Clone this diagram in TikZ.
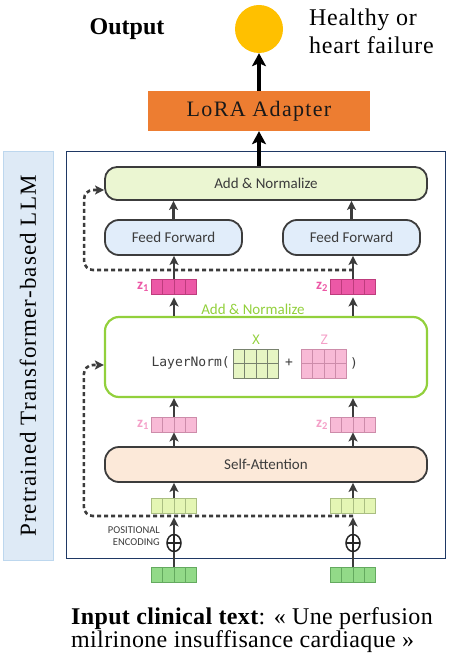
\documentclass[tikz,border=0pt]{standalone}
\usepackage{fontspec}
\setmainfont{Liberation Serif}
\newfontfamily\uisans{Carlito}
\newfontfamily\uimono{DejaVu Sans Mono}
\usepackage{xcolor}
\usepackage{tikz}
\usetikzlibrary{calc,shapes.geometric,arrows.meta}
\definecolor{loraOrange}{RGB}{237,125,49}
\definecolor{outYellow}{RGB}{255,192,0}
\definecolor{llmBlue}{RGB}{222,234,246}
\definecolor{llmEdge}{RGB}{189,215,238}
\definecolor{frameNavy}{RGB}{31,56,100}
\definecolor{boxGray}{RGB}{60,60,60}
\definecolor{addGreen}{RGB}{235,246,210}
\definecolor{ffBlue}{RGB}{225,237,250}
\definecolor{saPeach}{RGB}{252,233,217}
\definecolor{normLime}{RGB}{146,208,60}
\definecolor{zMag}{RGB}{236,88,166}
\definecolor{zMagEdge}{RGB}{190,60,125}
\definecolor{zPink}{RGB}{248,186,214}
\definecolor{zPinkEdge}{RGB}{205,140,170}
\definecolor{zPinkText}{RGB}{244,160,200}
\definecolor{embLime}{RGB}{228,246,180}
\definecolor{embEdge}{RGB}{170,190,130}
\definecolor{tokGreen}{RGB}{146,218,136}
\definecolor{tokEdge}{RGB}{100,170,95}
\definecolor{xLime}{RGB}{230,245,195}
\definecolor{xEdge}{RGB}{120,130,110}

\begin{document}
\begin{tikzpicture}[x=1pt,y=-1pt,>={Stealth[length=9pt,width=9pt,inset=2pt]},
  block/.style={draw=boxGray,line width=1.8pt,rounded corners=12pt,inner sep=0pt,
    font=\uisans\fontsize{15}{18}\selectfont,text=boxGray},
  cells/.style 2 args={path picture={
    \foreach \k in {1,2,3}
      \draw[#1,line width=.8pt] ($(path picture bounding box.south west)!\k/4!(path picture bounding box.south east)$)
        -- ($(path picture bounding box.north west)!\k/4!(path picture bounding box.north east)$);
    \ifnum#2>1 \draw[#1,line width=.8pt] (path picture bounding box.west) -- (path picture bounding box.east);\fi}},
  vec/.style 2 args={draw=#2,fill=#1,line width=.8pt,minimum width=45pt,minimum height=15pt,inner sep=0pt,cells={#2}{1}},
  mat/.style 2 args={draw=#2,fill=#1,line width=.8pt,minimum width=45pt,minimum height=29pt,inner sep=0pt,cells={#2}{2}},
  zlab/.style={anchor=east,inner sep=2pt,font=\uisans\bfseries\fontsize{15}{15}\selectfont},
  monotxt/.style={inner sep=0pt,font=\uimono\fontsize{13}{15}\selectfont,text=boxGray},
  posenc/.style={ellipse,draw=black!85,line width=1.5pt,minimum width=14pt,minimum height=17pt,inner sep=0pt,
    path picture={\draw[black!85,line width=1.5pt] (path picture bounding box.north) -- (path picture bounding box.south)
      (path picture bounding box.west) -- (path picture bounding box.east);}},
  flow/.style={draw=boxGray,line width=2.2pt},
  flowarr/.style={flow,->},
  resid/.style={draw=boxGray,line width=2.6pt,dash pattern=on 4pt off 3pt,rounded corners=9pt,->},
  mainarr/.style={draw=black,line width=3.2pt,-{Stealth[length=13pt,width=14pt,inset=3pt]}}]
  \useasboundingbox (0,0) rectangle (450,668);
  \node[draw=frameNavy,line width=1pt,minimum width=379pt,minimum height=406pt,inner sep=0pt] (frame) at (255.5,355) {};
  \node[rotate=90,fill=llmBlue,draw=llmEdge,line width=1pt,minimum width=408pt,minimum height=50pt,inner sep=0pt,
    font=\fontsize{23}{26}\selectfont\addfontfeature{LetterSpace=5}] (llm) at (28,356) {Pretrained Transformer-based LLM};
  \node[font=\bfseries\fontsize{24}{28}\selectfont] (outlbl) at (127,29) {Output};
  \node[circle,fill=outYellow,minimum size=48pt,inner sep=0pt] (result) at (259,29) {};
  \node[anchor=west,align=left,inner sep=0pt,font=\fontsize{24}{28}\selectfont\addfontfeature{LetterSpace=3}] (cls) at (309,31) {Healthy or\\heart failure};
  \node[fill=loraOrange,minimum width=222pt,minimum height=40pt,inner sep=0pt,text=black!90,
    font=\fontsize{22}{26}\selectfont\addfontfeature{LetterSpace=6}] (lora) at (259,111) {LoRA Adapter};
  \node[block,fill=addGreen,minimum width=322pt,minimum height=33pt] (addtop) at (266,183.5) {Add \& Normalize};
  \node[block,fill=ffBlue,minimum width=137pt,minimum height=35pt,rounded corners=14pt] (ffl) at (173.5,237.5) {Feed Forward};
  \node[block,fill=ffBlue,minimum width=137pt,minimum height=35pt,rounded corners=14pt] (ffr) at (351.5,237.5) {Feed Forward};
  \node[draw=normLime,line width=2.2pt,rounded corners=14pt,minimum width=322pt,minimum height=80pt] (lnbox) at (266,357) {};
  \node[text=normLime,font=\uisans\fontsize{15}{18}\selectfont] (normlbl) at (253,309) {Add \& Normalize};
  \node[block,fill=saPeach,minimum width=322pt,minimum height=35pt,rounded corners=14pt] (selfatt) at (266,464.5) {Self-Attention};
  \node[mat={xLime}{xEdge}] (xmat) at (256,363.5) {};
  \node[mat={zPink}{zPinkEdge}] (zmat) at (324,363.5) {};
  \node[monotxt,anchor=east] (lnlbl) at (230,363) {LayerNorm(};
  \node[monotxt] (plus) at (289,363) {+};
  \node[monotxt] (close) at (354,363) {)};
  \node[monotxt,text=normLime] (xlbl) at (256,340) {X};
  \node[monotxt,text=zPinkText] (zlbl) at (324,340) {Z};
  \node[anchor=east,align=right,inner sep=0pt,text=boxGray,font=\uisans\fontsize{10.5}{12}\selectfont] (pelbl) at (160,536) {POSITIONAL\\ENCODING};
  \coordinate (skiphi) at (353,270);
  \coordinate (skiplo) at (353,516);
  \draw[resid] (skiphi) -| ([xshift=-20pt,yshift=-6.5pt]addtop.west) -- ([yshift=-6.5pt]addtop.west);
  \draw[resid] (skiplo) -| ([xshift=-20pt,yshift=-8pt]lnbox.west) -- ([yshift=-8pt]lnbox.west);
  \foreach \c/\x/\n in {l/174/1,r/353/2}{
    \node[vec={tokGreen}{tokEdge}] (tok\c) at (\x,575) {};
    \node[vec={embLime}{embEdge}] (emb\c) at (\x,505.5) {};
    \node[vec={zPink}{zPinkEdge}] (zlo\c) at (\x,424.5) {};
    \node[vec={zMag}{zMagEdge}] (zhi\c) at (\x,286.5) {};
    \node[zlab,text=zPinkText] at (zlo\c.west) {z\textsubscript{\n}};
    \node[zlab,text=zMag] at (zhi\c.west) {z\textsubscript{\n}};
    \node[posenc] (pe\c) at (\x,543) {};
    \draw[flow] (tok\c) -- (pe\c);
    \draw[flowarr] (pe\c) -- ([yshift=-4pt]emb\c.south);
    \draw[flowarr] (emb\c.north) -- (emb\c.north |- selfatt.south);
    \draw[flowarr] (zlo\c.south |- selfatt.north) -- (zlo\c.south);
    \draw[flowarr] (zlo\c.north) -- (zlo\c.north |- lnbox.south);
    \draw[flowarr] (zhi\c.south |- lnbox.north) -- ([yshift=-3pt]zhi\c.south);
    \draw[flowarr] (zhi\c.north) -- (zhi\c.north |- ff\c.south);
    \draw[flowarr] (ff\c.north) -- (ff\c.north |- addtop.south);
  }
  \draw[mainarr] (lora.south |- addtop.north) -- (lora.south);
  \draw[mainarr] (lora.north) -- (result.south);
  \node[anchor=west,align=left,inner sep=0pt,font=\fontsize{24}{22}\selectfont\addfontfeature{LetterSpace=1.5}] (input) at (71,630)
    {\textbf{Input clinical text}: « Une perfusion\\milrinone insuffisance cardiaque »};
\end{tikzpicture}
\end{document}
